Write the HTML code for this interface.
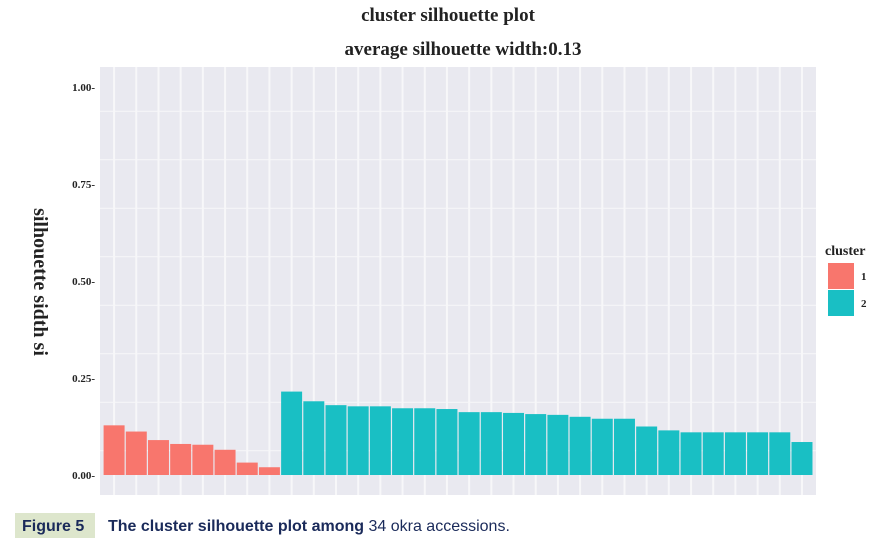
<!DOCTYPE html>
<html><head><meta charset="utf-8"><style>
html,body{margin:0;padding:0;background:#fff;}
body{width:878px;height:551px;overflow:hidden;position:relative;}
svg{position:absolute;left:0;top:0;}
</style></head><body>
<svg id="s" width="878" height="551" xmlns="http://www.w3.org/2000/svg">
<rect x="100" y="67" width="716" height="428" fill="#e9e9f0"/>
<g id="grid"></g>
<g id="bars"></g>
<g font-family="Liberation Serif, serif" font-weight="bold" fill="#222">
<text x="448" y="21" font-size="19" text-anchor="middle">cluster silhouette plot</text>
<text x="463" y="55" font-size="19" text-anchor="middle">average silhouette width:0.13</text>
<text x="95" y="91" font-size="11" text-anchor="end">1.00-</text>
<text x="95" y="188" font-size="11" text-anchor="end">0.75-</text>
<text x="95" y="285" font-size="11" text-anchor="end">0.50-</text>
<text x="95" y="382" font-size="11" text-anchor="end">0.25-</text>
<text x="95" y="479" font-size="11" text-anchor="end">0.00-</text>
<text transform="translate(34,282) rotate(90)" font-size="20" text-anchor="middle">silhouette sidth si</text>
<text x="825" y="255" font-size="14">cluster</text>
<rect x="828" y="263" width="26" height="26" fill="#f8766d"/>
<rect x="828" y="290" width="26" height="26" fill="#19bfc4"/>
<text x="861" y="280" font-size="11">1</text>
<text x="861" y="307" font-size="11">2</text>
</g>
<rect x="15" y="513" width="80" height="25" fill="#dde6cc"/>
<g font-family="Liberation Sans, sans-serif" font-size="16" fill="#1a2a5a">
<text x="22" y="531" font-weight="bold">Figure 5</text>
<text x="108" y="531"><tspan font-weight="bold">The cluster silhouette plot among</tspan> 34 okra accessions.</text>
</g>
</svg>
<script>
var ns="http://www.w3.org/2000/svg";
function el(p,t,a){var e=document.createElementNS(ns,t);for(var k in a)e.setAttribute(k,a[k]);p.appendChild(e);}
var g=document.getElementById('grid'),b=document.getElementById('bars');
var y0=475,u=388;
for(var v=-0.0625;v<=1.2;v+=0.125){var y=y0-v*u;if(y<67||y>495)continue;var major=Math.abs((v/0.25)-Math.round(v/0.25))<0.01;
el(g,'line',{x1:100,x2:816,y1:y,y2:y,stroke:'#f7f7f9','stroke-width':major?2:1});}
var vals=[0.128,0.112,0.09,0.08,0.078,0.065,0.032,0.02,0.215,0.19,0.18,0.177,0.177,0.172,0.172,0.17,0.162,0.162,0.16,0.157,0.155,0.15,0.145,0.145,0.125,0.115,0.11,0.11,0.11,0.11,0.11,0.085];
var x0=103,w=22.19;
for(var i=0;i<vals.length;i++){var cx=x0+w*(i+0.5);
el(g,'line',{x1:cx,x2:cx,y1:67,y2:495,stroke:'#f7f7f9','stroke-width':2});}
for(var i=0;i<vals.length;i++){var x=x0+w*i,h=vals[i]*u;
el(b,'rect',{x:x+0.6,y:y0-h,width:w-1.2,height:h,fill:i<8?'#f8766d':'#19bfc4'});}
</script>
</body></html>
